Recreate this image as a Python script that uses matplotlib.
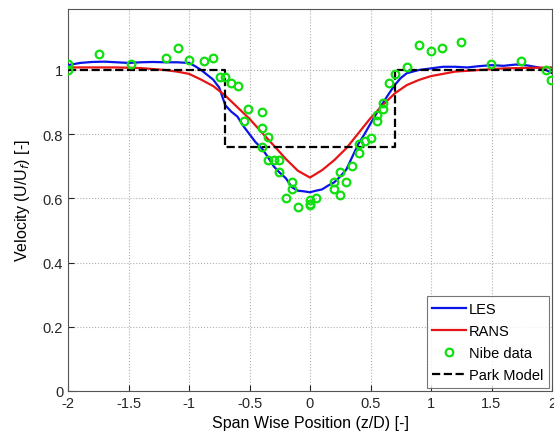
import matplotlib
matplotlib.use('Agg')
import matplotlib.pyplot as plt

plt.rcParams['font.family'] = ['Liberation Sans', 'DejaVu Sans']

# LES (blue)
les_x = [-2.0, -1.9, -1.8, -1.7, -1.6, -1.5, -1.4, -1.3, -1.2, -1.1, -1.0, -0.95, -0.9, -0.85, -0.8,
         -0.75, -0.7, -0.65, -0.6, -0.55, -0.5, -0.45, -0.4, -0.35, -0.3, -0.25, -0.2, -0.15, -0.1,
         -0.05, 0.0, 0.05, 0.1, 0.15, 0.2, 0.25, 0.3, 0.35, 0.4, 0.45, 0.5, 0.55, 0.6, 0.65, 0.7,
         0.75, 0.8, 0.9, 1.0, 1.1, 1.2, 1.3, 1.4, 1.5, 1.6, 1.7, 1.8, 1.9, 1.95, 2.0]
les_y = [1.015, 1.022, 1.025, 1.026, 1.024, 1.022, 1.024, 1.025, 1.024, 1.024, 1.022, 1.012, 1.0, 0.985, 0.97,
         0.945, 0.89, 0.87, 0.855, 0.825, 0.80, 0.775, 0.757, 0.73, 0.70, 0.68, 0.663, 0.635, 0.624,
         0.622, 0.619, 0.624, 0.628, 0.64, 0.65, 0.668, 0.69, 0.73, 0.77, 0.80, 0.833, 0.865, 0.896, 0.925, 0.953,
         0.975, 0.99, 1.0, 1.005, 1.01, 1.01, 1.008, 1.012, 1.015, 1.013, 1.017, 1.014, 1.007, 1.0, 0.99]

# RANS (red)
rans_x = [-2.0, -1.6, -1.4, -1.2, -1.1, -1.0, -0.9, -0.8, -0.7, -0.6, -0.5, -0.4, -0.3, -0.2, -0.1,
          0.0, 0.1, 0.2, 0.3, 0.4, 0.5, 0.6, 0.7, 0.8, 0.9, 1.0, 1.2, 1.4, 1.6, 2.0]
rans_y = [1.008, 1.008, 1.006, 1.0, 0.995, 0.988, 0.97, 0.95, 0.92, 0.884, 0.848, 0.806, 0.765, 0.723, 0.686,
          0.665, 0.688, 0.719, 0.756, 0.803, 0.85, 0.89, 0.927, 0.953, 0.969, 0.981, 0.995, 1.0, 1.005, 1.008]

# Nibe data (green circles)
nibe_x = [-2.0, -2.0, -1.74, -1.48, -1.19, -1.09, -1.0, -0.877, -0.798, -0.746, -0.699, -0.65, -0.597,
          -0.515, -0.548, -0.396, -0.396, -0.347, -0.396, -0.347, -0.30, -0.253, -0.253, -0.149, -0.149,
          -0.198, -0.102, 0.0, 0.0, 0.0, 0.049, 0.195, 0.195, 0.247, 0.25, 0.30, 0.349, 0.402, 0.402,
          0.451, 0.50, 0.55, 0.55, 0.603, 0.603, 0.652, 0.699, 0.80, 0.90, 0.998, 1.094, 1.245, 1.496,
          1.743, 1.948, 1.994]
nibe_y = [1.02, 1.0, 1.049, 1.019, 1.038, 1.067, 1.03, 1.029, 1.038, 0.978, 0.978, 0.958, 0.949,
          0.879, 0.84, 0.87, 0.82, 0.79, 0.761, 0.72, 0.72, 0.72, 0.681, 0.652, 0.63,
          0.602, 0.573, 0.595, 0.584, 0.58, 0.602, 0.652, 0.63, 0.612, 0.681, 0.652, 0.70, 0.741, 0.771,
          0.78, 0.789, 0.84, 0.86, 0.879, 0.898, 0.958, 0.987, 1.009, 1.078, 1.059, 1.067, 1.087, 1.019,
          1.029, 1.0, 0.969]

# Park model (black dashed)
park_x = [-2.0, -0.7, -0.7, 0.7, 0.7, 2.0]
park_y = [1.0, 1.0, 0.76, 0.76, 1.0, 1.0]

fig = plt.figure(figsize=(5.54, 4.39), dpi=100)
ax = fig.add_axes([68 / 554, 47 / 439, 484 / 554, 382 / 439])

ax.plot(les_x, les_y, color='#0a14e6', lw=1.6, label='LES', zorder=3)
ax.plot(rans_x, rans_y, color='#e61414', lw=1.6, label='RANS', zorder=3)
ax.plot(nibe_x, nibe_y, 'o', mfc='none', mec='#10e010', mew=1.6, ms=5.5, label='Nibe data', zorder=4)
ax.plot(park_x, park_y, '--', color='black', lw=1.6, label='Park Model', zorder=3)

ax.set_xlim(-2, 2)
ax.set_ylim(0, 1.19)
ax.set_xticks([-2, -1.5, -1, -0.5, 0, 0.5, 1, 1.5, 2])
ax.set_xticklabels(['-2', '-1.5', '-1', '-0.5', '0', '0.5', '1', '1.5', '2'])
ax.set_yticks([0, 0.2, 0.4, 0.6, 0.8, 1])
ax.set_yticklabels(['0', '0.2', '0.4', '0.6', '0.8', '1'])
ax.tick_params(direction='in', length=4, labelsize=10.5, colors='#262626')
ax.grid(True, linestyle=':', color='#b0b0b0', lw=0.8)
for s in ax.spines.values():
    s.set_color('#555555')

ax.set_xlabel('Span Wise Position (z/D) [-]', fontsize=11.5, labelpad=4)
ax.set_ylabel(r'Velocity (U/U$_f$) [-]', fontsize=11.5, labelpad=8)

leg = ax.legend(loc='lower right', fontsize=10.5, fancybox=False, edgecolor='#555555', numpoints=1,
                borderaxespad=0.2, handlelength=2.3, handletextpad=0.2, labelspacing=0.55, borderpad=0.4)
leg.get_frame().set_linewidth(0.8)

fig.savefig('out.png', dpi=100)
